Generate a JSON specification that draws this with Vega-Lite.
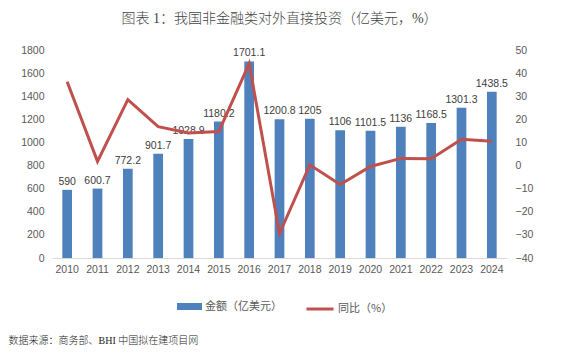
{
  "$schema": "https://vega.github.io/schema/vega-lite/v6.json",
  "width": 455,
  "height": 208,
  "autosize": {"type": "none"},
  "padding": {"left": 52, "top": 50, "right": 59, "bottom": 97},
  "background": "white",
  "title": {
    "text": "图表 1：我国非金融类对外直接投资（亿美元，%）",
    "font": "Liberation Serif, Noto Sans CJK SC",
    "fontSize": 14,
    "fontWeight": 300,
    "color": "#444444",
    "anchor": "middle",
    "offset": 19
  },
  "data": {
    "values": [
      {"year": "2010", "amount": 590, "yoy": 36.3},
      {"year": "2011", "amount": 600.7, "yoy": 1.8},
      {"year": "2012", "amount": 772.2, "yoy": 28.5},
      {"year": "2013", "amount": 901.7, "yoy": 16.8},
      {"year": "2014", "amount": 1028.9, "yoy": 14.1},
      {"year": "2015", "amount": 1180.2, "yoy": 14.7},
      {"year": "2016", "amount": 1701.1, "yoy": 44.1},
      {"year": "2017", "amount": 1200.8, "yoy": -29.4},
      {"year": "2018", "amount": 1205, "yoy": 0.3},
      {"year": "2019", "amount": 1106, "yoy": -8.2},
      {"year": "2020", "amount": 1101.5, "yoy": -0.4},
      {"year": "2021", "amount": 1136, "yoy": 3.1},
      {"year": "2022", "amount": 1168.5, "yoy": 2.9},
      {"year": "2023", "amount": 1301.3, "yoy": 11.4},
      {"year": "2024", "amount": 1438.5, "yoy": 10.5}
    ]
  },
  "encoding": {
    "x": {
      "field": "year",
      "type": "ordinal",
      "scale": {"paddingInner": 0.68, "paddingOuter": 0.34},
      "axis": {
        "title": "数据来源：商务部、BHI 中国拟在建项目网",
        "titleFont": "Liberation Serif, Noto Sans CJK SC",
        "titleFontSize": 10,
        "titleFontWeight": 300,
        "titleColor": "#222222",
        "titleAnchor": "start",
        "titleAlign": "left",
        "titleBaseline": "middle",
        "titleX": -44,
        "titleY": 82,
        "labelAngle": 0,
        "labelFont": "Liberation Sans",
        "labelFontSize": 10.5,
        "labelColor": "#595959",
        "labelPadding": 6,
        "ticks": false,
        "domainColor": "#d9d9d9",
        "grid": false
      }
    }
  },
  "layer": [
    {
      "mark": {"type": "bar"},
      "encoding": {
        "y": {
          "field": "amount",
          "type": "quantitative",
          "scale": {"domain": [0, 1800], "nice": false},
          "axis": {
            "title": null,
            "values": [0, 200, 400, 600, 800, 1000, 1200, 1400, 1600, 1800],
            "format": "d",
            "labelFont": "Liberation Sans",
            "labelFontSize": 10.5,
            "labelColor": "#595959",
            "labelPadding": 8,
            "ticks": false,
            "domain": false,
            "grid": false
          }
        },
        "fill": {
          "datum": "金额（亿美元）",
          "scale": {"range": ["#4F81BD"]},
          "legend": {
            "title": null,
            "orient": "none",
            "legendX": 125,
            "legendY": 244,
            "padding": 0,
            "symbolType": "M-1,-0.28H1V0.28H-1Z",
            "symbolSize": 625,
            "symbolStrokeWidth": 0,
            "labelFont": "Noto Sans CJK SC",
            "labelFontSize": 11,
            "labelColor": "#595959",
            "labelOffset": 3
          }
        }
      }
    },
    {
      "mark": {"type": "text", "dy": -8, "font": "Liberation Sans", "fontSize": 10.5, "color": "#404040"},
      "encoding": {
        "y": {
          "field": "amount",
          "type": "quantitative",
          "scale": {"domain": [0, 1800], "nice": false},
          "axis": null
        },
        "text": {"field": "amount", "type": "quantitative", "format": ""}
      }
    },
    {
      "mark": {"type": "line", "strokeWidth": 3, "strokeJoin": "miter"},
      "encoding": {
        "y": {
          "field": "yoy",
          "type": "quantitative",
          "scale": {"domain": [-40, 50], "nice": false},
          "axis": {
            "orient": "right",
            "title": null,
            "values": [-40, -30, -20, -10, 0, 10, 20, 30, 40, 50],
            "labelFont": "Liberation Sans",
            "labelFontSize": 10.5,
            "labelColor": "#595959",
            "labelPadding": 8,
            "ticks": false,
            "domain": false,
            "grid": false
          }
        },
        "stroke": {
          "datum": "同比（%）",
          "scale": {"range": ["#C0504D"]},
          "legend": {
            "title": null,
            "orient": "none",
            "legendX": 253,
            "legendY": 244,
            "padding": 0,
            "symbolType": "stroke",
            "symbolSize": 729,
            "symbolStrokeWidth": 3,
            "labelFont": "Noto Sans CJK SC",
            "labelFontSize": 11,
            "labelColor": "#595959",
            "labelOffset": 3
          }
        }
      }
    }
  ],
  "resolve": {"scale": {"y": "independent", "fill": "independent", "stroke": "independent"}},
  "config": {
    "view": {"stroke": null}
  }
}
